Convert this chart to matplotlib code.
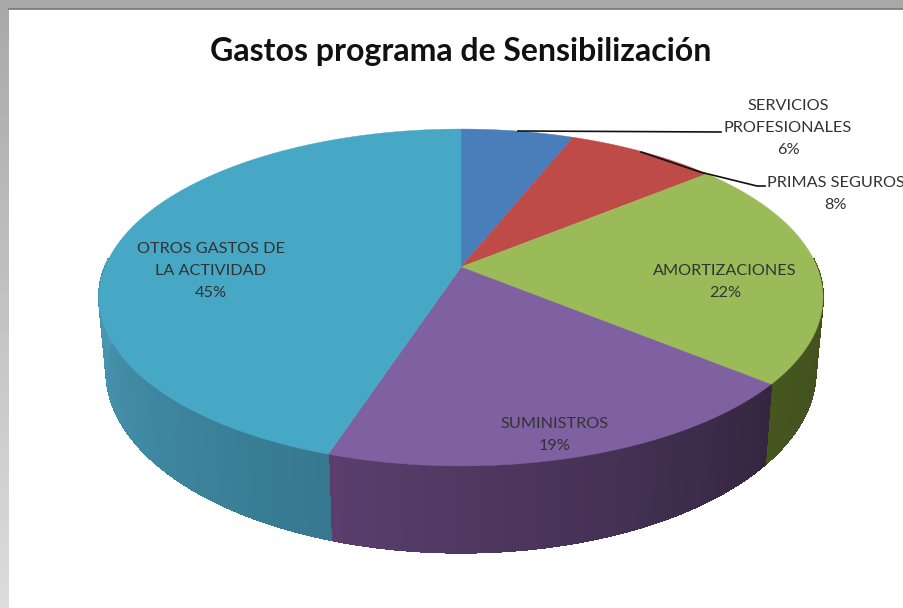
import numpy as np
import matplotlib
matplotlib.use("Agg")
import matplotlib.pyplot as plt
from matplotlib.patches import Polygon, Rectangle
from matplotlib.colors import to_rgb

title = "Gastos programa de Sensibilización"
categories = ["SERVICIOS\nPROFESIONALES", "PRIMAS SEGUROS", "AMORTIZACIONES",
              "SUMINISTROS", "OTROS GASTOS DE\nLA ACTIVIDAD"]
values = [6, 8, 22, 19, 45]
top_colors = ["#4A7EBB", "#BE4B48", "#9BBB59", "#7F60A0", "#46A8C5"]
wall_left = ["#2f4d70", "#70302e", "#46561f", "#5a3f6e", "#4a9ab6"]
wall_right = ["#2f4d70", "#70302e", "#3f4d1e", "#342640", "#36788f"]
label_pos = [(788, 128), (836, 194), (725, 282), (555, 435), (211, 271)]

plt.rcParams['font.family'] = ['Lato', 'DejaVu Sans']

CX, CY, R = 461, 267, 356
C, A = 0.181, -114.6
DEPTH, LOW = 71, 0.98


def top_pt(t):
    u, v = np.sin(t), np.cos(t)
    d = 1 + C * v
    return CX + R * u / d, (A * v + CY) / d


def low_pt(t):
    u, v = np.sin(t), np.cos(t)
    d = 1 + C * v
    return CX + LOW * R * u / d, (A * v + CY) / d + DEPTH / d


def mix(c1, c2, f):
    a, b = np.array(to_rgb(c1)), np.array(to_rgb(c2))
    return tuple(a + (b - a) * f)


fig = plt.figure(figsize=(9.04, 6.08), dpi=100)
ax = fig.add_axes([0, 0, 1, 1])
ax.axis("off")

# grey backdrop, lighter towards the bottom, white slide on top
shade = np.linspace(0.66, 0.86, 64).reshape(-1, 1)
ax.imshow(shade, cmap="gray", vmin=0, vmax=1, extent=(0, 904, 608, 0), aspect="auto", zorder=0)
ax.set_xlim(0, 904)
ax.set_ylim(608, 0)
ax.add_patch(Rectangle((9, 9), 895, 599, fc="white", ec="none", zorder=1))
ax.plot([9, 904], [8.5, 8.5], color="#777777", lw=1.2, zorder=1)

edges = np.radians(np.cumsum([0] + values) * 3.6)

# side wall, split in thin strips for the shading
for i in range(len(values)):
    lo = max(edges[i], np.pi / 2 - 0.05)
    hi = min(edges[i + 1], 3 * np.pi / 2 + 0.05)
    if hi <= lo:
        continue
    ts = np.linspace(lo, hi, 90)
    for j in range(len(ts) - 1):
        x0, y0 = top_pt(ts[j])
        x1, y1 = top_pt(ts[j + 1])
        x2, y2 = low_pt(ts[j + 1])
        x3, y3 = low_pt(ts[j])
        # shading runs left to right on screen
        f = 1 - j / (len(ts) - 2)
        col = mix(wall_left[i], wall_right[i], f)
        ax.add_patch(Polygon([(x0, y0), (x1, y1), (x2, y2), (x3, y3)], fc=col, ec=col, lw=0.8,
                             antialiased=False, zorder=2))

# top face
for i in range(len(values)):
    ts = np.linspace(edges[i], edges[i + 1], 200)
    xs, ys = top_pt(ts)
    pts = [(CX, CY)] + list(zip(xs, ys))
    ax.add_patch(Polygon(pts, fc=top_colors[i], ec=top_colors[i], lw=0.3, zorder=3))

# leader lines
ax.plot([518, 721], [131, 132], color="#111111", lw=1.2, zorder=4)
ax.plot([641, 700, 757, 765], [152, 172, 186, 186], color="#111111", lw=1.2, zorder=4)

ax.text(461, 52, title, ha="center", va="center", fontsize=23, fontweight="bold", color="#111111", zorder=5)

for name, val, (lx, ly) in zip(categories, values, label_pos):
    ax.text(lx, ly, f"{name}\n{val}%", ha="center", va="center", fontsize=11.7,
            color="#333333", linespacing=1.72, zorder=5)

fig.savefig("out.png", dpi=100)
